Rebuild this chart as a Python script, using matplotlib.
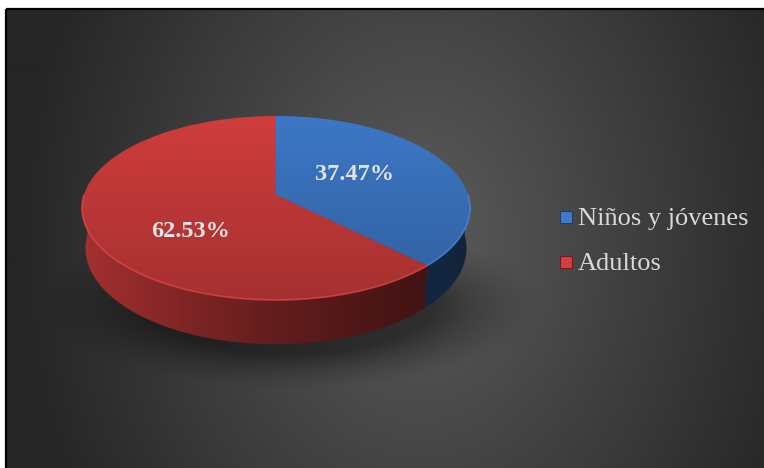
import numpy as np
import matplotlib.pyplot as plt
from matplotlib.patches import Polygon, Rectangle

# distribución por grupo de edad
grupos = ["Niños y jóvenes", "Adultos"]
porcentajes = [37.47, 62.53]
colores = [(62, 122, 202), (212, 62, 62)]

W, H = 764, 468
fig = plt.figure(figsize=(W / 100, H / 100), dpi=100)
ax = fig.add_axes([0, 0, 1, 1])
ax.set_xlim(0, W)
ax.set_ylim(H, 0)
ax.axis("off")

xx, yy = np.meshgrid(np.arange(W) + 0.5, np.arange(H) + 0.5)


def pintar(img, clip, z):
    # imagen a pantalla completa recortada por un parche
    ax.add_patch(clip)
    im = ax.imshow(img, extent=(0, W, H, 0), origin="upper", aspect="auto",
                   interpolation="bilinear", zorder=z)
    im.set_clip_path(clip)
    return im


def color_por_factor(base, f):
    rgb = np.stack([np.full_like(f, c / 255.0) for c in base], axis=-1)
    return np.clip(rgb * f[..., None], 0, 1)


# fondo oscuro con degradado radial
marco = Rectangle((6, 8.5), W, H, fill=False, lw=0)
t = np.sqrt(((xx - 420) / 400) ** 2 + ((yy - 240) / 520) ** 2)
gris = (92 - 54 * np.clip(t, 0, 1)) / 92.0
pintar(color_por_factor((92, 92, 92), gris), marco, 0)
ax.add_patch(Rectangle((6, 8.5), W, H, fill=False, edgecolor="black", lw=1.6, zorder=10))

# sombra bajo el pastel
t = np.sqrt(((xx - 290) / 220) ** 2 + ((yy - 305) / 75) ** 2)
sombra = np.zeros((H, W, 4))
sombra[..., 3] = 0.45 * np.clip((1.15 - t) / 0.5, 0, 1) ** 1.5
ax.imshow(sombra, extent=(0, W, H, 0), origin="upper", aspect="auto", zorder=1)

# proyección en perspectiva del disco
elev = np.radians(28)
dist = 6.2
grosor = 0.24


def proj3(u, v, z):
    ry = v + dist * np.cos(elev)
    rz = z - dist * np.sin(elev)
    yc = ry * np.sin(elev) + rz * np.cos(elev)
    zc = ry * np.cos(elev) - rz * np.sin(elev)
    return u / zc, yc / zc


ang = np.linspace(0, 2 * np.pi, 721)
sx, sy = proj3(np.cos(ang), np.sin(ang), 0)
x0, x1, y0, y1 = 82, 470, 116, 300


def a_px(u, v, z=0.0):
    px, py = proj3(u, v, z)
    return (x0 + (px - sx.min()) / (sx.max() - sx.min()) * (x1 - x0),
            y0 + (sy.max() - py) / (sy.max() - sy.min()) * (y1 - y0))


def arco(a, b, z=0.0, r=1.0):
    phi = np.radians(np.linspace(a, b, 200))
    return np.column_stack(a_px(r * np.cos(phi), r * np.sin(phi), z))


acum = np.concatenate([[0], np.cumsum(porcentajes) / 100.0])
f_lado = 0.30 + 0.48 * np.clip(1 - (xx - x0) / (x1 - x0), 0, 1) ** 1.5
f_tapa = 0.98 - 0.20 * np.clip((yy - y0) / (y1 - y0), 0, 1)
centro = np.array(a_px(0.0, 0.0))

for i, base in enumerate(colores):
    a_ini = 90 - 360 * acum[i]
    a_fin = 90 - 360 * acum[i + 1]

    # cara lateral visible (mitad delantera)
    for lo, hi in [(-180, 0), (-540, -360)]:
        s, e = max(a_fin, lo), min(a_ini, hi)
        if e <= s:
            continue
        borde = arco(e, s)
        fondo = arco(s, e, -grosor)
        lado = Polygon(np.vstack([borde, fondo]), closed=True, fill=False, lw=0)
        pintar(color_por_factor(base, f_lado), lado, 2)
        brillo = tuple(min(255, int(c * 1.25)) for c in base)
        ax.plot(borde[:, 0], borde[:, 1], color=np.array(brillo) / 255, lw=1.2,
                alpha=0.6, zorder=4, solid_capstyle="butt")

    # tapa superior
    tapa = Polygon(np.vstack([centro, arco(a_ini, a_fin)]), closed=True, fill=False, lw=0)
    pintar(color_por_factor(base, f_tapa), tapa, 3)

    # etiqueta de porcentaje
    medio = np.radians((a_ini + a_fin) / 2)
    lx, ly = a_px(0.46 * np.cos(medio), 0.82 * np.sin(medio))
    ax.annotate(f"{porcentajes[i]:.2f}%", (lx, ly), xytext=(0, -5),
                textcoords="offset points", ha="center", va="center",
                fontsize=17.5, fontweight="bold", family="Liberation Serif",
                color="#e4e4e4", zorder=6)

# leyenda
for i, (nombre, base) in enumerate(zip(grupos, colores)):
    yb = 225 + 45 * i
    ax.add_patch(Rectangle((560, yb - 14), 12, 12, facecolor=np.array(base) / 255,
                           edgecolor=np.array(base) / 255 * 0.5, lw=0.8, zorder=6))
    ax.text(578, yb, nombre, ha="left", va="baseline", fontsize=19,
            family="Liberation Serif", color="#d9d9d9", zorder=6)

fig.savefig("out.png", dpi=100, facecolor="white")
